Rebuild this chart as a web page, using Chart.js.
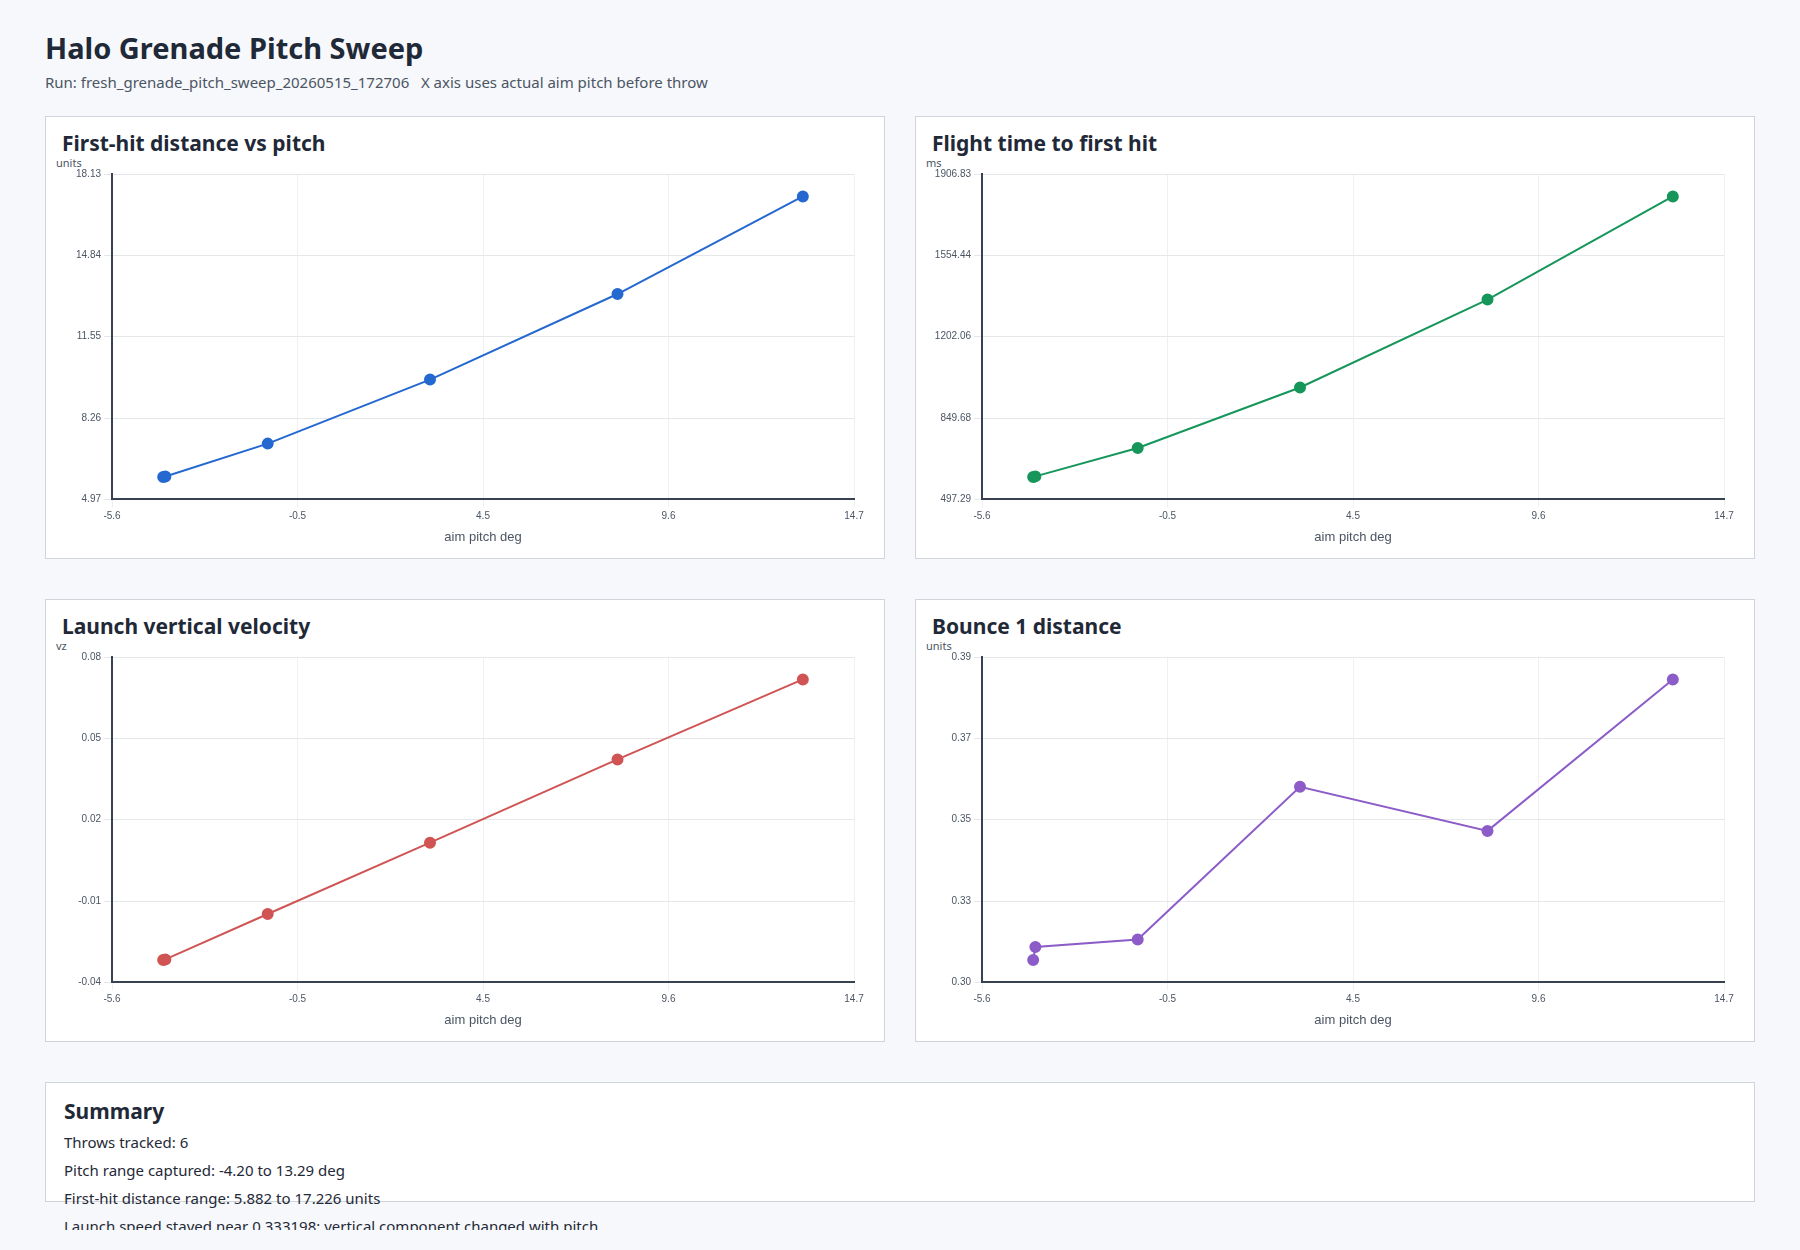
<!DOCTYPE html>
<html lang="en">
<head>
  <meta charset="UTF-8">
  <title>Halo Grenade Pitch Sweep</title>
  <script src="https://cdn.jsdelivr.net/npm/chart.js"></script>
  <style>
    body {
      font-family: 'Noto Sans', 'Open Sans', sans-serif;
      background: #f6f8fb;
      margin: 0;
      padding: 28px 45px;
      color: #1f2937;
    }
    h1 { font-size: 29px; margin: 0 0 4px 0; font-weight: 700; line-height: 40px; }
    .sub { font-size: 15px; color: #4b5563; margin-bottom: 24px; }
    .grid {
      display: grid;
      grid-template-columns: 1fr 1fr;
      column-gap: 30px;
      row-gap: 40px;
    }
    .card {
      background: #fff;
      border: 1px solid #d1d5db;
      padding: 12px 16px 6px 16px;
      height: 423px;
    }
    .card h2 { font-size: 21px; margin: 0; font-weight: 700; line-height: 28px; }
    .unit { font-size: 11px; color: #4b5563; margin: 0 0 0 -6px; line-height: 12px; }
    .cv { position: relative; height: 384px; margin-left: -8px; margin-top: -4px; }
    .summary {
      background: #fff;
      border: 1px solid #d1d5db;
      margin-top: 40px;
      padding: 14px 18px;
      height: 90px;
    }
    .summary h2 { font-size: 21px; margin: 0 0 8px 0; line-height: 28px; }
    .summary p { font-size: 15px; margin: 0 0 10px 0; line-height: 18px; }
  </style>
</head>
<body>
  <h1>Halo Grenade Pitch Sweep</h1>
  <div class="sub">Run: fresh_grenade_pitch_sweep_20260515_172706 &nbsp;&nbsp;X axis uses actual aim pitch before throw</div>

  <div class="grid">
    <div class="card"><h2>First-hit distance vs pitch</h2><div class="unit">units</div><div class="cv"><canvas id="c1"></canvas></div></div>
    <div class="card"><h2>Flight time to first hit</h2><div class="unit">ms</div><div class="cv"><canvas id="c2"></canvas></div></div>
    <div class="card"><h2>Launch vertical velocity</h2><div class="unit">vz</div><div class="cv"><canvas id="c3"></canvas></div></div>
    <div class="card"><h2>Bounce 1 distance</h2><div class="unit">units</div><div class="cv"><canvas id="c4"></canvas></div></div>
  </div>

  <div class="summary">
    <h2>Summary</h2>
    <p>Throws tracked: 6</p>
    <p>Pitch range captured: -4.20 to 13.29 deg</p>
    <p>First-hit distance range: 5.882 to 17.226 units</p>
    <p>Launch speed stayed near 0.333198; vertical component changed with pitch.</p>
  </div>

  <script>
    // aim pitch per throw (deg)
    const pitch = [-4.21, -4.15, -1.35, 3.09, 8.22, 13.29];
    const firstHit = [5.882, 5.90, 7.23, 9.82, 13.28, 17.226];
    const flightMs = [594.5, 597, 720, 982, 1363, 1809.62];
    const vz = [-0.0311, -0.0309, -0.0142, 0.012, 0.0426, 0.072];
    const bounce1 = [0.3101, 0.3135, 0.3155, 0.3557, 0.3441, 0.3840];

    function range(vals) {
      const lo = Math.min(...vals), hi = Math.max(...vals);
      const pad = (hi - lo) * 0.08;
      return [lo - pad, hi + pad];
    }

    function fiveTicks(axis) {
      const step = (axis.max - axis.min) / 4;
      axis.ticks = [0, 1, 2, 3, 4].map(i => ({ value: axis.min + i * step }));
    }

    function makeChart(id, values, color, digits) {
      const [xmin, xmax] = range(pitch);
      const [ymin, ymax] = range(values);
      new Chart(document.getElementById(id), {
        type: 'line',
        data: {
          datasets: [{
            data: pitch.map((p, i) => ({ x: p, y: values[i] })),
            borderColor: color,
            backgroundColor: color,
            borderWidth: 2,
            pointRadius: 5,
            pointHoverRadius: 6,
            tension: 0
          }]
        },
        options: {
          responsive: true,
          maintainAspectRatio: false,
          animation: false,
          layout: { padding: { right: 14 } },
          plugins: { legend: { display: false }, tooltip: { enabled: false } },
          scales: {
            x: {
              type: 'linear', min: xmin, max: xmax,
              afterBuildTicks: fiveTicks,
              grid: { color: '#eef0f3' },
              border: { color: '#374151', width: 2 },
              ticks: { color: '#4b5563', font: { size: 10 }, callback: v => v.toFixed(1) },
              title: { display: true, text: 'aim pitch deg', color: '#4b5563', font: { size: 13 } }
            },
            y: {
              min: ymin, max: ymax,
              afterBuildTicks: fiveTicks,
              grid: { color: '#e5e7eb' },
              border: { color: '#374151', width: 2 },
              afterFit: s => { s.width = Math.max(s.width, 58); },
              ticks: { color: '#4b5563', font: { size: 10 }, callback: v => v.toFixed(digits) }
            }
          }
        }
      });
    }

    makeChart('c1', firstHit, '#2468d0', 2);
    makeChart('c2', flightMs, '#16965a', 2);
    makeChart('c3', vz, '#d05454', 2);
    makeChart('c4', bounce1, '#8c5cc8', 2);
  </script>
</body>
</html>
